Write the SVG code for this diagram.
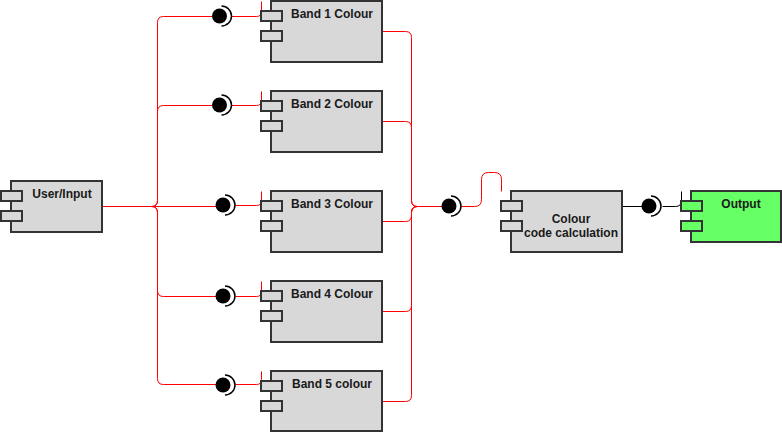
<svg xmlns="http://www.w3.org/2000/svg" width="782" height="432" viewBox="0 0 782 432">
<style>
.box{fill:#d8d8d8;stroke:#333333;stroke-width:2}
.out{fill:#66ff66;stroke:#333333;stroke-width:2}
.lbl{font-family:"Liberation Sans",Arial,sans-serif;font-size:12px;font-weight:bold;fill:#1a1a1a;text-anchor:middle}
.red{fill:none;stroke:#ff0000;stroke-width:1}
.blk{fill:none;stroke:#000000;stroke-width:1}
.ball{fill:#000000}
.sock{fill:none;stroke:#000000;stroke-width:1.5}
</style>
<rect width="782" height="432" fill="#ffffff"/>
<g id="connectors" transform="translate(0.5,0.5)">
<path class="red" d="M102,206 H151 Q157,206 157,200 V22 Q157,16 163,16 H212"/>
<path class="red" d="M102,206 H151 Q157,206 157,200 V111 Q157,105 163,105 H212"/>
<path class="red" d="M102,206 H216"/>
<path class="red" d="M102,206 H151 Q157,206 157,212 V290 Q157,296 163,296 H216"/>
<path class="red" d="M102,206 H151 Q157,206 157,212 V378 Q157,384 163,384 H216"/>
<path class="red" d="M231,16 H256 Q261,16 261,11 V1"/>
<path class="red" d="M231,105 H256 Q261,105 261,100 V91"/>
<path class="red" d="M235,205 H256 Q261,205 261,200 V191"/>
<path class="red" d="M235,296 H256 Q261,296 261,291 V281"/>
<path class="red" d="M235,384 H256 Q261,384 261,379 V371"/>
<path class="red" d="M382,31 H405 Q411,31 411,37 V200 Q411,206 417,206 H442"/>
<path class="red" d="M382,121 H405 Q411,121 411,127 V200 Q411,206 417,206 H442"/>
<path class="red" d="M382,221 H405 Q411,221 411,215 V212 Q411,206 417,206 H442"/>
<path class="red" d="M382,311 H405 Q411,311 411,305 V212 Q411,206 417,206 H442"/>
<path class="red" d="M382,401 H405 Q411,401 411,395 V212 Q411,206 417,206 H442"/>
<path class="red" d="M461,206 H474 Q481,206 481,199 V179 Q481,172 488,172 H494 Q501,172 501,179 V191"/>
<path class="blk" d="M622,206 H642"/>
<path class="blk" d="M662,206 H675 Q681,206 681,200 V191"/>
</g>
<g id="iface-band1"><circle class="ball" cx="219.5" cy="16" r="7.5"/><path class="sock" d="M221.5,6 A10,10 0 0 1 221.5,26"/></g>
<g id="iface-band2"><circle class="ball" cx="219.5" cy="105" r="7.5"/><path class="sock" d="M221.5,95 A10,10 0 0 1 221.5,115"/></g>
<g id="iface-band3"><circle class="ball" cx="223" cy="205" r="7.5"/><path class="sock" d="M225,195 A10,10 0 0 1 225,215"/></g>
<g id="iface-band4"><circle class="ball" cx="223" cy="296" r="7.5"/><path class="sock" d="M225,286 A10,10 0 0 1 225,306"/></g>
<g id="iface-band5"><circle class="ball" cx="223" cy="385" r="7.5"/><path class="sock" d="M225,375 A10,10 0 0 1 225,395"/></g>
<g id="iface-calc"><circle class="ball" cx="449" cy="206" r="7.5"/><path class="sock" d="M451,196 A10,10 0 0 1 451,216"/></g>
<g id="iface-output"><circle class="ball" cx="649" cy="206" r="7.5"/><path class="sock" d="M651,196 A10,10 0 0 1 651,216"/></g>
<g id="user-input">
<rect class="box" x="11" y="181" width="91" height="51"/>
<rect class="box" x="1" y="191" width="21" height="10"/>
<rect class="box" x="1" y="211" width="21" height="10"/>
<text class="lbl" x="62" y="198">User/Input</text>
</g>
<g id="band1">
<rect class="box" x="271" y="1" width="111" height="61"/>
<rect class="box" x="261" y="11" width="21" height="10"/>
<rect class="box" x="261" y="31" width="21" height="10"/>
<text class="lbl" x="332" y="18">Band 1 Colour</text>
</g>
<g id="band2">
<rect class="box" x="271" y="91" width="111" height="61"/>
<rect class="box" x="261" y="101" width="21" height="10"/>
<rect class="box" x="261" y="121" width="21" height="10"/>
<text class="lbl" x="332" y="108">Band 2 Colour</text>
</g>
<g id="band3">
<rect class="box" x="271" y="191" width="111" height="61"/>
<rect class="box" x="261" y="201" width="21" height="10"/>
<rect class="box" x="261" y="221" width="21" height="10"/>
<text class="lbl" x="332" y="208">Band 3 Colour</text>
</g>
<g id="band4">
<rect class="box" x="271" y="281" width="111" height="61"/>
<rect class="box" x="261" y="291" width="21" height="10"/>
<rect class="box" x="261" y="311" width="21" height="10"/>
<text class="lbl" x="332" y="298">Band 4 Colour</text>
</g>
<g id="band5">
<rect class="box" x="271" y="371" width="111" height="60"/>
<rect class="box" x="261" y="381" width="21" height="10"/>
<rect class="box" x="261" y="401" width="21" height="10"/>
<text class="lbl" x="332" y="388">Band 5 colour</text>
</g>
<g id="calc">
<rect class="box" x="511" y="191" width="111" height="61"/>
<rect class="box" x="501" y="201" width="21" height="10"/>
<rect class="box" x="501" y="221" width="21" height="10"/>
<text class="lbl" x="571" y="223">Colour</text>
<text class="lbl" x="571" y="237">code calculation</text>
</g>
<g id="output">
<rect class="out" x="691" y="191" width="90" height="51"/>
<rect class="out" x="681" y="201" width="21" height="10"/>
<rect class="out" x="681" y="221" width="21" height="10"/>
<text class="lbl" x="741" y="208">Output</text>
</g>
</svg>
